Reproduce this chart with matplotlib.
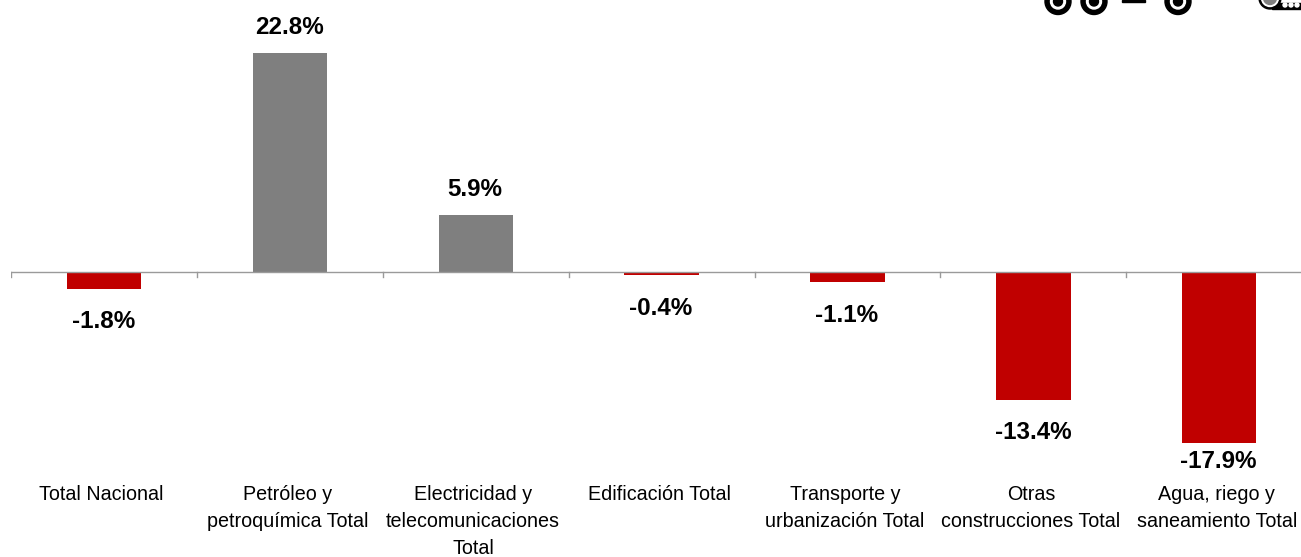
import matplotlib
matplotlib.use('Agg')
from matplotlib import pyplot as plt
from matplotlib.patches import Circle, Rectangle

plt.rcParams['font.family'] = ['Liberation Sans', 'DejaVu Sans']

labels = ['Total Nacional', 'Petróleo y\npetroquímica Total', 'Electricidad y\ntelecomunicaciones\nTotal',
          'Edificación Total', 'Transporte y\nurbanización Total', 'Otras\nconstrucciones Total',
          'Agua, riego y\nsaneamiento Total']
values = [-1.8, 22.8, 5.9, -0.4, -1.1, -13.4, -17.9]
texts = ['-1.8%', '22.8%', '5.9%', '-0.4%', '-1.1%', '-13.4%', '-17.9%']

W, H = 1301, 557
fig = plt.figure(figsize=(W / 100, H / 100), dpi=100)
# axes span x 11..1301 and y from 0 to 480 px, zero line at y=271.5
ax = fig.add_axes([11 / W, 1 - 480 / H, 1290 / W, 480 / H])
px = 218.5 / 22.8
ax.set_ylim((271.5 - 480) / px, 271.5 / px)
ax.set_xlim(-0.5, 6.44)

colors = ['#C00000' if v < 0 else '#7F7F7F' for v in values]
ax.bar(range(len(values)), values, width=0.4, color=colors)

for s in ax.spines.values():
    s.set_visible(False)
ax.axhline(0, color='#9a9a9a', lw=1)
ax.set_yticks([])
ax.set_xticks([])
for i in range(8):
    ax.plot([i - 0.5, i - 0.5], [0, 5.5 / px * -1], color='#9a9a9a', lw=1, clip_on=True)

for i, v in enumerate(values):
    if v >= 0:
        off = 25
    elif i == 6:
        off = -18  # last one sits tight under the bar, above the category label
    else:
        off = -33
    ax.annotate(texts[i], (i, v), xytext=(-0.5, off), textcoords='offset pixels', ha='center', va='center',
                fontsize=17.4, fontweight='bold')

for i, l in enumerate(labels):
    ax.annotate(l, (i, (271.5 - 485) / px), xytext=(-2.5, 0), textcoords='offset pixels', ha='center', va='top',
                fontsize=14.2, linespacing=1.55, annotation_clip=False)

# bits of the logo cut off at the top right corner
logo = fig.add_axes([0, 0, 1, 1], facecolor='none')
logo.set_xlim(0, W)
logo.set_ylim(H, 0)
logo.axis('off')
for x in [1058, 1094, 1178]:
    logo.add_patch(Circle((x, 1.5), 13, color='black'))
    logo.add_patch(Circle((x, 1.5), 7.5, color='white'))
    logo.add_patch(Circle((x, 1.5), 4.5, color='black'))
logo.add_patch(Rectangle((1122, 0), 23, 1.5, color='black'))
logo.add_patch(Rectangle((1272, 3), 29, 6, color='black'))
logo.add_patch(Circle((1270, -2), 11, color='black'))
logo.add_patch(Circle((1270, -2), 8.5, color='white'))
logo.add_patch(Circle((1270, -2), 6.5, color='#808080'))
for x in [1285, 1291, 1297]:
    logo.add_patch(Circle((x, 5), 2, color='white'))

fig.savefig('out.png', dpi=100)
